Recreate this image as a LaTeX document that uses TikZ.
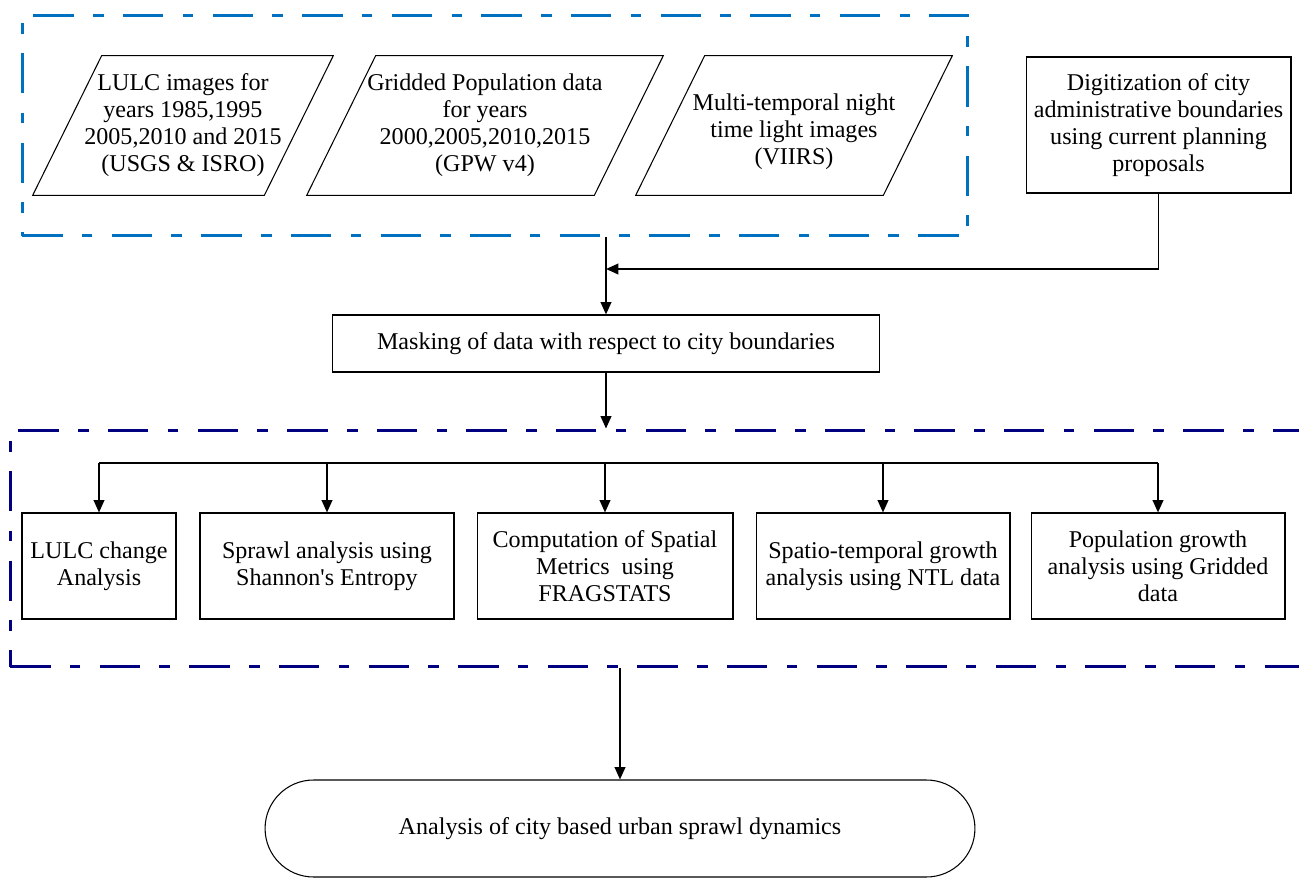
\documentclass[tikz,border=0pt]{standalone}
\usepackage{fontspec}
\setmainfont{Liberation Serif}[Ligatures=TeXOff]
\usetikzlibrary{arrows.meta}
\definecolor{frameblue}{RGB}{0,112,192}
\definecolor{framenavy}{RGB}{0,0,128}

\begin{document}
\begin{tikzpicture}[x=0.02cm, y=-0.02cm,
  font=\fontsize{13.7}{15.4}\selectfont,
  every node/.style={align=center},
  datanode/.style={minimum height=2.78cm, inner sep=0pt},
  dataline/.style={line width=0.6pt},
  box/.style={draw, line width=0.6pt, minimum height=2.12cm, inner sep=1pt},
  frame/.style={line width=1.7pt, dash pattern=on 23pt off 11pt on 6pt off 11pt},
  arr/.style={-{Triangle[length=7pt,width=6pt]}, line width=1.1pt},
  conn/.style={line width=1.1pt}
]
\useasboundingbox (0,0) rectangle (1299,879);

% dashed frames
\node[frame, draw=frameblue, minimum width=18.92cm, minimum height=4.42cm] (inputs) at (495,125.5) {};
\node[frame, draw=framenavy, minimum width=25.9cm, minimum height=4.74cm] (process) at (657.5,548.5) {};

% input data
\node[datanode, minimum width=6cm] (lulc) at (183,125.5) {LULC images for\\years 1985,1995\\2005,2010 and 2015\\(USGS \& ISRO)};
\node[datanode, minimum width=7.12cm] (gpw) at (485,125.5) {Gridded Population data\\for years\\2000,2005,2010,2015\\(GPW v4)};
\node[datanode, minimum width=6.32cm] (ntl) at (794,125.5) {\rule{0pt}{17pt}Multi-temporal night\\time light images\\(VIIRS)};
% parallelogram outlines
\foreach \n in {lulc,gpw,ntl}
  \draw[dataline] (\n.south west) -- ([xshift=-1.38cm]\n.south east)
    -- (\n.north east) -- ([xshift=1.38cm]\n.north west) -- cycle;

\node[box, minimum width=5.3cm, minimum height=2.72cm] (digi) at (1158.5,125) {Digitization of city\\administrative boundaries\\using current planning\\proposals};

\node[box, minimum width=10.96cm, minimum height=1.14cm] (mask) at (606,343.5) {Masking of data with respect to city boundaries};

% analysis steps
\node[box, minimum width=3.08cm] (lulcchg) at (99,566) {LULC change\\Analysis};
\node[box, minimum width=5.08cm] (entropy) at (327,566) {Sprawl analysis using\\Shannon's Entropy};
\node[box, minimum width=5.12cm] (metrics) at (605,566) {Computation of Spatial\\Metrics\ \ using\\FRAGSTATS};
\node[box, minimum width=5.08cm] (ntlgrowth) at (883,566) {Spatio-temporal growth\\analysis using NTL data};
\node[box, minimum width=5.08cm] (popgrowth) at (1158,566) {Population growth\\analysis using Gridded\\data};

\node[draw, line width=0.6pt, rounded corners=0.97cm, minimum width=14.2cm, minimum height=1.94cm] (result) at (620,828.5) {Analysis of city based urban sprawl dynamics};

% connectors
\coordinate (join) at (606,269);
\coordinate (bus) at (605,463);
\draw[arr] (digi.south) |- (join);
\draw[arr] (mask.north |- inputs.south) -- (mask.north);
\draw[arr] (mask.south) -- (mask.south |- process.north);
\draw[conn] (bus -| lulcchg.north) -- (bus -| popgrowth.north);
\foreach \b in {lulcchg,entropy,metrics,ntlgrowth,popgrowth}
  \draw[arr] (bus -| \b.north) -- (\b.north);
\draw[arr] (result.north |- process.south) -- (result.north);
\end{tikzpicture}
\end{document}
